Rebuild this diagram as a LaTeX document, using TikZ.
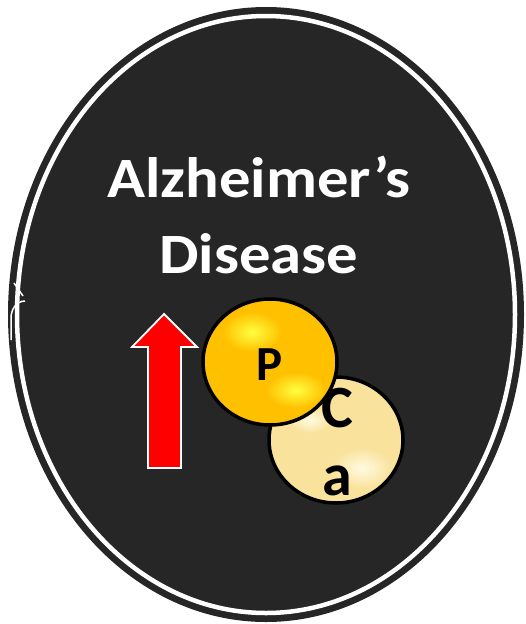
\documentclass[tikz,border=0pt]{standalone}
\usepackage{fontspec}
\setmainfont{Carlito}
\usetikzlibrary{shapes.geometric, positioning}
\definecolor{bgdark}{HTML}{262626}
\definecolor{arrowred}{HTML}{FF0000}
\definecolor{pgold}{HTML}{FFC000}
\definecolor{pglow}{HTML}{FFFF40}
\definecolor{capale}{HTML}{F9E29C}
\definecolor{caglow}{HTML}{FFFBE2}

\begin{document}
\begin{tikzpicture}[
  x=1pt, y=-1pt,
  ball/.style={ellipse, draw=black, line width=3.5pt, minimum width=134pt, minimum height=126pt, inner sep=0pt},
  title/.style={text=white, font=\fontsize{57}{76}\selectfont\bfseries, align=center, xscale=1.1, transform shape},
  ballabel/.style={text=black, font=\fontsize{#1}{68}\selectfont\bfseries, align=center, inner sep=0pt},
  uparrow/.style={draw=white, line width=1.8pt, fill=arrowred, line join=miter},
]
\useasboundingbox (0,0) rectangle (525,624);

% Frame
\fill[bgdark] (266,314.5) ellipse [x radius=258, y radius=307.5];
\draw[white, line width=4.5pt] (266,314.5) ellipse [x radius=249, y radius=298.5];
% broken mark on the left edge
\draw[white, line width=1.5pt] (25,301) to[out=180, in=90] (11,318) -- (11,340);
\draw[white, line width=1.5pt] (14,283) -- (23,296);

% Title
\node[title] (disease) at (259,215) {Alzheimer’s\\Disease};

% Rising arrow
\draw[uparrow] (164,314) -- (197,347) -- (181,347) -- (181,468)
  -- (148,468) -- (148,347) -- (132,347) -- cycle;

% Ca ball
\node[ball, fill=capale] (caball) at (336,440) {};
\begin{scope}
  \clip (caball.center) ellipse [x radius=64, y radius=60];
  \shade[inner color=caglow, outer color=capale] (362,468) ellipse [x radius=30, y radius=20];
  \shade[inner color=caglow, outer color=capale] (310,420) ellipse [x radius=22, y radius=13];
\end{scope}

% P ball
\node[ball, fill=pgold] (pball) at (270,362) {};
\begin{scope}
  \clip (pball.center) ellipse [x radius=64, y radius=60];
  \shade[inner color=pglow, outer color=pgold] (252,332) ellipse [x radius=30, y radius=20];
  \shade[inner color=pglow, outer color=pgold] (296,390) ellipse [x radius=30, y radius=18];
\end{scope}

% Labels
\node[ballabel=49] (plabel) at (pball.center) [yshift=-3pt] {P};
\node[ballabel=60] (calabel) at (337,442) {C\\a};
\end{tikzpicture}
\end{document}
